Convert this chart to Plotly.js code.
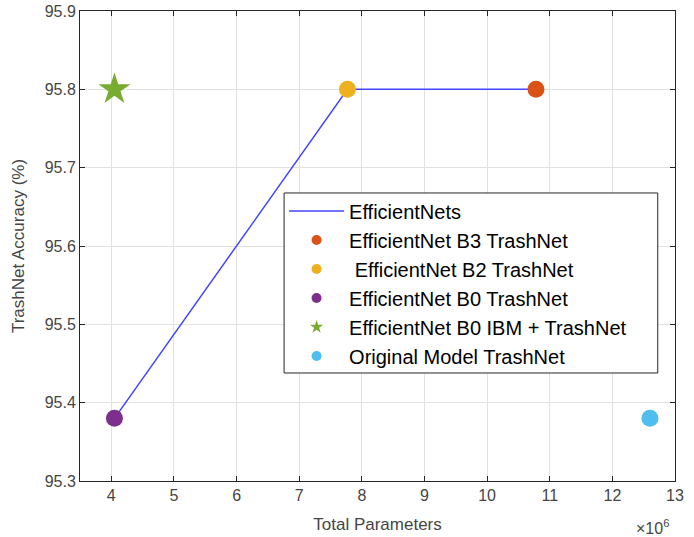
<!DOCTYPE html>
<html>
<head>
<meta charset="utf-8">
<script src="https://cdn.plot.ly/plotly-3.0.1.min.js"></script>
<style>html,body{margin:0;padding:0;background:#fff;}#chart{width:694px;height:537px;}</style>
</head>
<body>
<div id="chart"></div>
<script>
// Data (x in millions of parameters; axis multiplier shown as x10^6)
const lineX = [4.05, 7.77, 10.78];
const lineY = [95.38, 95.8, 95.8];
const seriesNames = ["EfficientNet B3 TrashNet", " EfficientNet B2 TrashNet", "EfficientNet B0 TrashNet", "EfficientNet B0 IBM + TrashNet", "Original Model TrashNet"];
const seriesX = [10.78, 7.77, 4.05, 4.05, 12.6];
const seriesY = [95.8, 95.8, 95.38, 95.8, 95.38];
const seriesColors = ["#D95319", "#EDB120", "#7E2F8E", "#77AC30", "#4DBEEE"];
const seriesSymbols = ["circle", "circle", "circle", "star", "circle"];
const seriesSizes = [17, 17, 17, 24, 17];
const legendSizes = [10, 10, 10, 10, 10];
const xTicks = [4, 5, 6, 7, 8, 9, 10, 11, 12, 13];
const yTicks = [95.3, 95.4, 95.5, 95.6, 95.7, 95.8, 95.9];

const traces = [{
  x: lineX, y: lineY, type: "scatter", mode: "lines", name: "EfficientNets",
  line: {color: "#4545ff", width: 1.5}
}];
// plotted markers (not in legend)
for (let i = 0; i < seriesNames.length; i++) {
  traces.push({
    x: [seriesX[i]], y: [seriesY[i]], type: "scatter", mode: "markers",
    name: seriesNames[i], showlegend: false,
    marker: {color: seriesColors[i], symbol: seriesSymbols[i], size: seriesSizes[i], line: {width: 0}}
  });
}
// legend entries with small symbols, as in the reference legend
for (let i = 0; i < seriesNames.length; i++) {
  traces.push({
    x: [null], y: [null], type: "scatter", mode: "markers",
    name: seriesNames[i], showlegend: true, hoverinfo: "skip",
    marker: {color: seriesColors[i], symbol: seriesSymbols[i], size: legendSizes[i], line: {width: 0}}
  });
}

const axisCommon = {
  showgrid: true, gridcolor: "#e2e2e2", gridwidth: 1,
  zeroline: false, showline: true, linecolor: "#262626", linewidth: 1,
  mirror: "allticks", ticks: "inside", ticklen: 5, tickcolor: "#262626",
  tickfont: {family: "Liberation Sans, Arial, sans-serif", size: 16, color: "#454545"}
};

const layout = {
  width: 694, height: 537,
  margin: {l: 80, r: 19, t: 11, b: 56},
  paper_bgcolor: "#fff", plot_bgcolor: "#fff",
  font: {family: "Liberation Sans, Arial, sans-serif", color: "#262626"},
  xaxis: Object.assign({}, axisCommon, {
    range: [3.5, 13], tickvals: xTicks, ticktext: xTicks.map(String),
    title: {text: "Total Parameters", font: {size: 17, color: "#454545"}, standoff: 14}
  }),
  yaxis: Object.assign({}, axisCommon, {
    range: [95.3, 95.9], tickvals: yTicks, ticktext: yTicks.map(v => v.toFixed(1)),
    title: {text: "TrashNet Accuracy (%)", font: {size: 17, color: "#454545"}, standoff: 15}
  }),
  showlegend: true,
  legend: {
    x: 0.343, y: 0.616, xanchor: "left", yanchor: "top",
    bgcolor: "rgba(0,0,0,0)", borderwidth: 0,
    font: {size: 20, color: "#000"}, tracegroupgap: 0, itemsizing: "trace",
    itemwidth: 55
  },
  // legend box frame (MATLAB style, wider than text)
  shapes: [{
    type: "rect", xref: "paper", yref: "paper", layer: "above",
    x0: 0.343, x1: 0.971, y0: 0.2298, y1: 0.6128,
    fillcolor: "#ffffff", line: {color: "#262626", width: 1}
  }],
  annotations: [{
    xref: "paper", yref: "paper", x: 1.0, y: 0, yshift: -46, xshift: -4, xanchor: "right", yanchor: "middle",
    text: "×10<sup>6</sup>", showarrow: false, font: {size: 16, color: "#454545"}
  }]
};

Plotly.newPlot("chart", traces, layout, {displayModeBar: false, staticPlot: true});
</script>
</body>
</html>
